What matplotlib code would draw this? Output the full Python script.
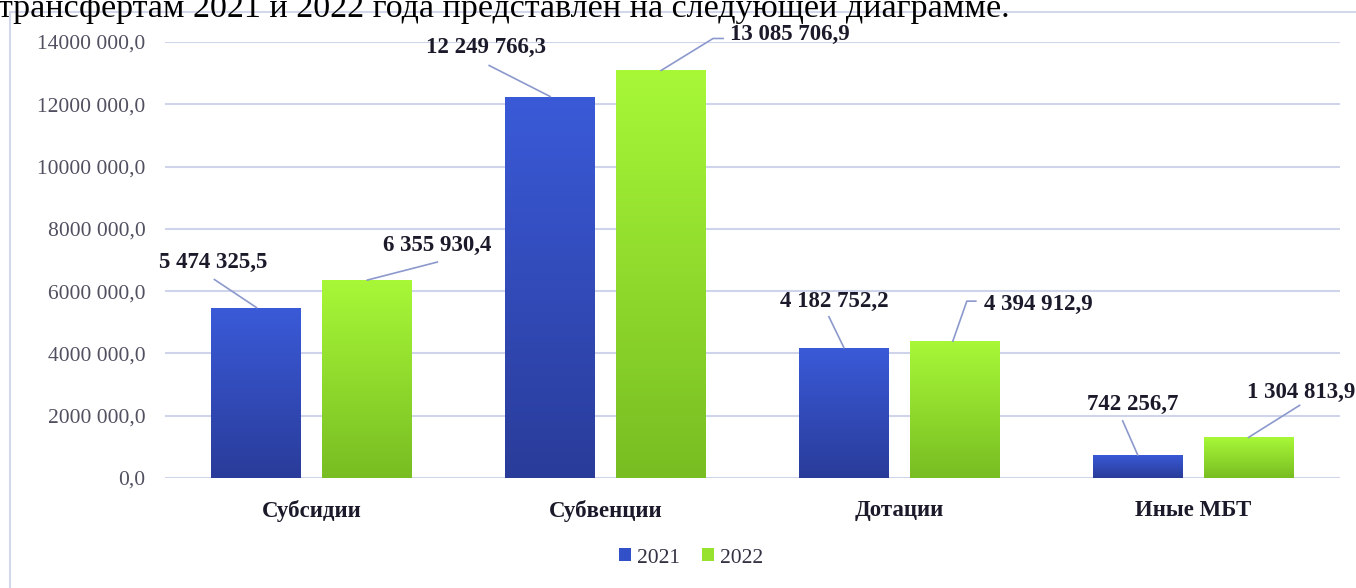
import numpy as np
import matplotlib
matplotlib.use("Agg")
import matplotlib.pyplot as plt
from matplotlib.patches import Rectangle
from matplotlib.colors import LinearSegmentedColormap
from matplotlib.lines import Line2D
from matplotlib.transforms import ScaledTranslation

categories = ["Субсидии", "Субвенции", "Дотации", "Иные МБТ"]
series_names = ["2021", "2022"]
values_2021 = [5474325.5, 12249766.3, 4182752.2, 742256.7]
values_2022 = [6355930.4, 13085706.9, 4394912.9, 1304813.9]
yticks = [0, 2000000, 4000000, 6000000, 8000000, 10000000, 12000000, 14000000]
ytick_labels = ["0,0", "2000 000,0", "4000 000,0", "6000 000,0", "8000 000,0",
                "10000 000,0", "12000 000,0", "14000 000,0"]
caption = "трансфертам 2021 и 2022 года представлен на следующей диаграмме."


def fmt(v):
    s = f"{v:,.1f}"
    return s.replace(",", " ").replace(".", ",")


W, H = 1356, 588
fig = plt.figure(figsize=(W / 100, H / 100), dpi=100)
serif = "Liberation Serif"

# caption text (cut off at top)
fig.text(-2 / W, 1 - 16.5 / H, caption, fontsize=24.5, family=serif, color="black",
         ha="left", va="baseline")

# chart border
fig.add_artist(Rectangle((10 / W, -0.1), 1.2, 1 - 12 / H + 0.1, transform=fig.transFigure,
                         fill=False, edgecolor="#d3d7ea", linewidth=1.5))

ax = fig.add_axes([165 / W, 1 - 478 / H, 1175 / W, 436 / H])
ax.set_xlim(-0.5, 3.5)
ax.set_ylim(0, 14000000)
for s in ax.spines.values():
    s.set_visible(False)
ax.set_yticks(yticks)
ax.set_yticklabels(ytick_labels, family=serif, fontsize=15.5, color="#505060")
ax.tick_params(axis="y", length=0, pad=14)
ax.set_xticks(range(len(categories)))
ax.set_xticklabels(categories, family=serif, fontsize=16.5, fontweight="bold", color="#1a1a2a")
ax.tick_params(axis="x", length=0, pad=16)
ax.grid(axis="y", color="#d0d4ea", linewidth=1.5)
ax.set_axisbelow(True)

x = np.arange(len(categories))
bw = 90 / 294
off = 111 / 2 / 294

cmaps = [LinearSegmentedColormap.from_list("b", ["#2a3c9a", "#3a5ad8"]),
         LinearSegmentedColormap.from_list("g", ["#78bd22", "#a8f838"])]
solid = ["#3250c8", "#96e22e"]
grad = np.linspace(0, 1, 256).reshape(-1, 1)

all_bars = []
for i, vals in enumerate([values_2021, values_2022]):
    xs = x + (-off if i == 0 else off)
    bars = ax.bar(xs, vals, width=bw, color=solid[i], label=series_names[i], zorder=2)
    for b in bars:
        im = ax.imshow(grad, cmap=cmaps[i], aspect="auto", origin="lower",
                       extent=[b.get_x(), b.get_x() + b.get_width(), 0, b.get_height()],
                       zorder=2.5)
        im.set_clip_path(b)
    all_bars.append(bars)
ax.set_xlim(-0.5, 3.5)
ax.set_ylim(0, 14000000)

# label layout (pixel offsets from bar top centre; y up)
line_offsets = [
    [[(0, 0), (-42, 28)], [(0, 0), (-61, 31)], [(0, 0), (-15, 31)], [(0, 0), (-15, 34)]],
    [[(0, 0), (70, 18)], [(0, 0), (52, 32), (62, 32)], [(-2, 0), (12, 40), (21, 40)], [(0, 0), (51, 32)]],
]
text_offsets = [
    [((-43, 45), "center"), ((-64, 49), "center"), ((-10, 46), "center"), ((-5, 50), "center")],
    [((16, 35), "left"), ((69, 36), "left"), ((29, 37), "left"), ((-2, 45), "left")],
]
line_col = "#8c99cc"
for i, vals in enumerate([values_2021, values_2022]):
    for j, v in enumerate(vals):
        bx = x[j] + (-off if i == 0 else off)
        pts = np.array(line_offsets[i][j], dtype=float)
        ln = Line2D(pts[:, 0], pts[:, 1], color=line_col, lw=1.2,
                    transform=ScaledTranslation(bx, v, ax.transData), clip_on=False, zorder=3)
        ax.add_artist(ln)
        (tx, ty), ha = text_offsets[i][j]
        ax.annotate(fmt(v), xy=(bx, v), xytext=(tx, ty), textcoords="offset pixels",
                    ha=ha, va="center", family=serif, fontsize=16.5, fontweight="bold",
                    color="#1a1a2a", annotation_clip=False)

leg = fig.legend(handles=[all_bars[0], all_bars[1]], labels=series_names,
                 loc="center", bbox_to_anchor=(691 / W, 1 - 558 / H), ncol=2,
                 frameon=False, prop={"family": serif, "size": 15.5},
                 handlelength=0.55, handleheight=0.55, handletextpad=0.3, columnspacing=1.0)
for t in leg.get_texts():
    t.set_color("#333344")

fig.savefig("out.png", dpi=100)
